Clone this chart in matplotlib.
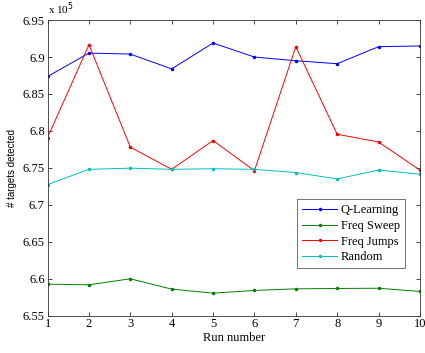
import matplotlib
matplotlib.use("Agg")
import matplotlib.pyplot as plt

runs = [1, 2, 3, 4, 5, 6, 7, 8, 9, 10]
q_learning = [6.8737, 6.9054, 6.9040, 6.8840, 6.9190, 6.9000, 6.8950, 6.8910, 6.9140, 6.9150]
freq_sweep = [6.5925, 6.5917, 6.5998, 6.5858, 6.5804, 6.5840, 6.5862, 6.5867, 6.5870, 6.5827]
freq_jumps = [6.7910, 6.9167, 6.7780, 6.7480, 6.7870, 6.7460, 6.9140, 6.7955, 6.7850, 6.7470]
random_ = [6.7274, 6.7480, 6.7496, 6.7480, 6.7488, 6.7480, 6.7437, 6.7350, 6.7470, 6.7415]
series_names = ["Q-Learning", "Freq Sweep", "Freq Jumps", "Random"]
yticks = [6.55, 6.6, 6.65, 6.7, 6.75, 6.8, 6.85, 6.9, 6.95]

plt.rcParams['font.family'] = ['Liberation Serif', 'DejaVu Serif']
fig = plt.figure(figsize=(4.25, 3.53), dpi=100)
ax = fig.add_axes([0.112, 0.106, 0.876, 0.837])

colors = ['#0000ff', '#008000', '#ff0000', '#00bfbf']
for vals, name, c in zip([q_learning, freq_sweep, freq_jumps, random_], series_names, colors):
    ax.plot(runs, vals, color=c, lw=0.7, marker='.', ms=3, label=name)

ax.set_xlim(1, 10)
ax.set_ylim(6.55, 6.95)
ax.set_xticks(runs)
ax.set_yticks(yticks)
ax.set_yticklabels([f"{v:g}" for v in yticks])
ax.tick_params(direction='in', top=True, right=True, labelsize=9, length=3, width=0.5, pad=2)
for s in ax.spines.values():
    s.set_linewidth(0.6)
    s.set_color('#333333')
ax.set_xlabel("Run number", fontsize=9, labelpad=1)
ax.set_ylabel("# targets detected", fontsize=7, labelpad=4, family=['Liberation Sans'])
ax.text(0.0, 1.012, r"x 10$^5$", transform=ax.transAxes, fontsize=8, ha='left', va='bottom')

leg = ax.legend(loc='upper left', bbox_to_anchor=(0.67, 0.394), fontsize=9, frameon=True,
                fancybox=False, edgecolor='#333333', handlelength=2.8, borderpad=0.4,
                labelspacing=0.3, handletextpad=0.3, borderaxespad=0)
leg.get_frame().set_linewidth(0.6)

fig.savefig("out.png", dpi=100)
